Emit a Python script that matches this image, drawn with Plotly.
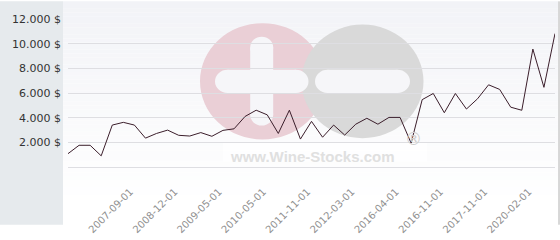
import plotly.graph_objects as go

# ---- data ----
values = [1080, 1760, 1760, 906, 3400, 3620, 3400, 2340, 2720, 2990, 2570, 2510, 2790, 2490, 2970,
          3095, 4100, 4605, 4230, 2720, 4605, 2265, 3700, 2415, 3400, 2590, 3470, 3950, 3470, 4020,
          4020, 1935, 5460, 5960, 4400, 5960, 4700, 5530, 6665, 6290, 4850, 4600, 9560, 6460, 10820]
tick_positions = [5, 9, 13, 17, 21, 25, 29, 33, 37, 41]
tick_labels = ["2007-09-01", "2008-12-01", "2009-05-01", "2010-05-01", "2011-11-01",
               "2012-03-01", "2016-04-01", "2016-11-01", "2017-11-01", "2020-02-01"]
y_ticks = [2000, 4000, 6000, 8000, 10000, 12000]
y_tick_labels = ["2.000 $", "4.000 $", "6.000 $", "8.000 $", "10.000 $", "12.000 $"]

W, H = 560, 240
L, R, T, B = 68, 555, 19, 178


def fx(px):
    return (px - L) / (R - L)


def fy(py):
    return (B - py) / (B - T)


shapes = []
# background gradient (decoration)
n = 60
for i in range(n):
    y0 = i * H / n
    y1 = (i + 1) * H / n
    t = min(1.0, (y0 + y1) / 2 / 215)
    c0 = (242, 243, 247)
    c = tuple(round(a + (255 - a) * t) for a in c0)
    shapes.append(dict(type="rect", xref="paper", yref="paper", layer="below",
                       x0=fx(63), x1=fx(558), y0=fy(y1), y1=fy(y0),
                       fillcolor="rgb(%d,%d,%d)" % c, line_width=0))
# left panel
shapes.append(dict(type="rect", xref="paper", yref="paper", layer="below",
                   x0=fx(0), x1=fx(63), y0=fy(H), y1=fy(0),
                   fillcolor="#e6eaed", line_width=0))
# right border
shapes.append(dict(type="line", xref="paper", yref="paper", layer="below",
                   x0=fx(559), x1=fx(559), y0=fy(H), y1=fy(0),
                   line=dict(color="#b0b0b0", width=1)))


def circle(cx, cy, r, color):
    return dict(type="circle", xref="paper", yref="paper", layer="below",
                x0=fx(cx - r), x1=fx(cx + r), y0=fy(cy + r), y1=fy(cy - r),
                fillcolor=color, line_width=0)


def hbar(x0, x1, cy, h, color):
    r = h / 2
    return [dict(type="rect", xref="paper", yref="paper", layer="below",
                 x0=fx(x0 + r), x1=fx(x1 - r), y0=fy(cy + r), y1=fy(cy - r),
                 fillcolor=color, line_width=0),
            circle(x0 + r, cy, r, color), circle(x1 - r, cy, r, color)]


def vbar(cx, y0, y1, w, color):
    r = w / 2
    return [dict(type="rect", xref="paper", yref="paper", layer="below",
                 x0=fx(cx - r), x1=fx(cx + r), y0=fy(y1 - r), y1=fy(y0 + r),
                 fillcolor=color, line_width=0),
            circle(cx, y0 + r, r, color), circle(cx, y1 - r, r, color)]


pink = "#eacfd6"
grey = "#d9d9d9"
barc = "#f6f6f9"
shapes.append(circle(262.5, 86, 62.5, pink))
shapes.append(circle(362.5, 86, 61, grey))
shapes += vbar(261.7, 38, 133.5, 23, barc)
shapes += hbar(215, 308.5, 86, 25, barc)
shapes += hbar(315, 410, 86, 25, barc)
# white box behind watermark text
shapes.append(dict(type="rect", xref="paper", yref="paper", layer="below",
                   x0=fx(223), x1=fx(427), y0=fy(172), y1=fy(151),
                   fillcolor="rgba(255,255,255,0.7)", line_width=0))

annotations = [
    dict(text="<b>www.Wine-Stocks.com</b>", xref="paper", yref="paper",
         x=fx(312), y=fy(167), xanchor="center", yanchor="middle", showarrow=False,
         font=dict(family="Liberation Sans", size=15, color="#e0e0e0")),
    dict(text="®", xref="paper", yref="paper",
         x=fx(413), y=fy(148), xanchor="center", yanchor="middle", showarrow=False,
         font=dict(family="DejaVu Sans", size=17, color="#cdcdcd")),
]

fig = go.Figure()
fig.add_trace(go.Scatter(x=list(range(len(values))), y=values, mode="lines",
                         line=dict(color="#3b1e2b", width=1), hoverinfo="skip"))

fig.update_layout(
    width=W, height=H,
    margin=dict(l=L, r=W - R, t=T, b=H - B, pad=0),
    paper_bgcolor="white", plot_bgcolor="rgba(0,0,0,0)",
    showlegend=False,
    shapes=shapes, annotations=annotations,
    xaxis=dict(range=[0, len(values) - 1], showgrid=False, zeroline=False, showline=False,
               tickmode="array", tickvals=tick_positions, ticktext=tick_labels,
               tickangle=-45, ticks="", ticklabelshift=7, ticklabelstandoff=16,
               tickfont=dict(family="DejaVu Sans", size=10, color="#909090")),
    yaxis=dict(range=[0, 12000], tickmode="array", tickvals=y_ticks, ticktext=y_tick_labels,
               showgrid=True, gridcolor="#dedee2", gridwidth=1,
               zeroline=True, zerolinecolor="#dedee2", zerolinewidth=1,
               showline=False, ticks="", ticklabelstandoff=6,
               tickfont=dict(family="DejaVu Sans", size=11, color="#333333")),
)

fig.write_html("out.html")
